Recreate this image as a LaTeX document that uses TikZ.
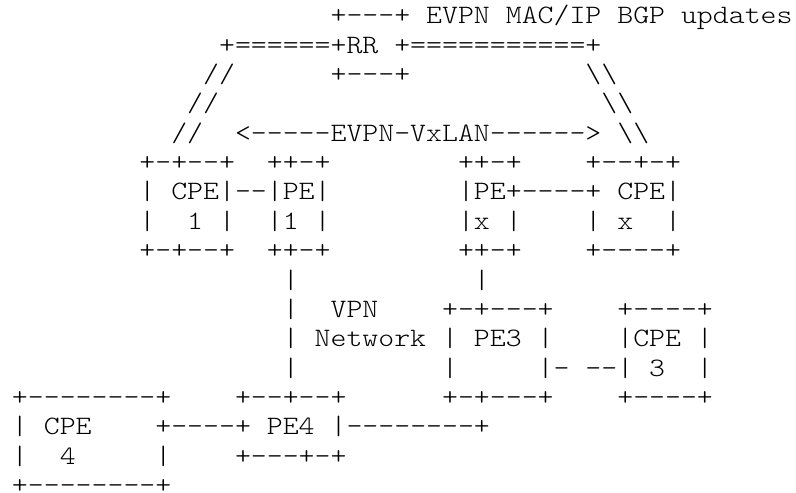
\documentclass[tikz,border=0pt]{standalone}
\usepackage{fontspec}
\setmonofont{lmmonolt10-regular.otf}[FakeStretch=1.1429]
\tikzset{asc/.style={anchor=base west,inner sep=0pt,outer sep=0pt,
  font=\ttfamily\fontsize{13.275}{15}\selectfont}}
\newcommand{\bsl}{\textbackslash\textbackslash}

\begin{document}
\begin{tikzpicture}[x=7.965pt,y=-14.6875pt]
\useasboundingbox (0,0) rectangle (49.97,16.75);
\begin{scope}[shift={(0.753,-0.193)}]
% route reflector and BGP sessions
\node[asc] (rrtop) at (20,1) {+---+~EVPN~MAC/IP~BGP~updates};
\node[asc] (rrmid) at (13,2) {+======+RR~+===========+};
\node[asc] (rrbot) at (20,3) {+---+};
\node[asc] (sesl3) at (12,3) {//};
\node[asc] (sesl4) at (11,4) {//};
\node[asc] (sesl5) at (10,5) {//};
\node[asc] (sesr3) at (36,3) {\bsl};
\node[asc] (sesr4) at (37,4) {\bsl};
\node[asc] (sesr5) at (38,5) {\bsl};
\node[asc] (vxlan) at (14,5) {<-----EVPN-VxLAN------>};
% CPE1, PE1, PEx, CPEx
\node[asc] (top1) at (8,6) {+-+--+};
\node[asc] (top2) at (16,6) {++-+};
\node[asc] (top3) at (28,6) {++-+};
\node[asc] (top4) at (36,6) {+--+-+};
\node[asc] (cpe1a) at (8,7) {|~CPE|--|PE|};
\node[asc] (pexa) at (28,7) {|PE+----+~CPE|};
\node[asc] (cpe1b) at (8,8) {|~~1~|~~|1~|};
\node[asc] (pexb) at (28,8) {|x~|~~~~|~x~~|};
\node[asc] (bot1) at (8,9) {+-+--+~~++-+};
\node[asc] (botx) at (28,9) {++-+~~~~+----+};
% VPN network, PE3, CPE3
\node[asc] (vl10) at (17,10) {|};
\node[asc] (vr10) at (29,10) {|};
\node[asc] (vl11) at (17,11) {|};
\node[asc] (vpn) at (20,11) {VPN};
\node[asc] (pe3a) at (27,11) {+-+---+};
\node[asc] (cpe3a) at (38,11) {+----+};
\node[asc] (vl12) at (17,12) {|};
\node[asc] (net) at (19,12) {Network};
\node[asc] (pe3b) at (27,12) {|~PE3~|};
\node[asc] (cpe3b) at (38,12) {|CPE~|};
\node[asc] (vl13) at (17,13) {|};
\node[asc] (pe3c) at (27,13) {|};
\node[asc] (cpe3c) at (33,13) {|-~--|~3~~|};
\node[asc] (pe3d) at (27,14) {+-+---+};
\node[asc] (cpe3d) at (38,14) {+----+};
% CPE4 and PE4
\node[asc] (cpe4a) at (0,14) {+--------+};
\node[asc] (pe4a) at (14,14) {+--+--+};
\node[asc] (cpe4b) at (0,15) {|~CPE~~~~+----+~PE4~|--------+};
\node[asc] (cpe4c) at (0,16) {|~~4~~~~~|};
\node[asc] (pe4c) at (14,16) {+---+-+};
\node[asc] (cpe4d) at (0,17) {+--------+};
\end{scope}
\end{tikzpicture}
\end{document}
